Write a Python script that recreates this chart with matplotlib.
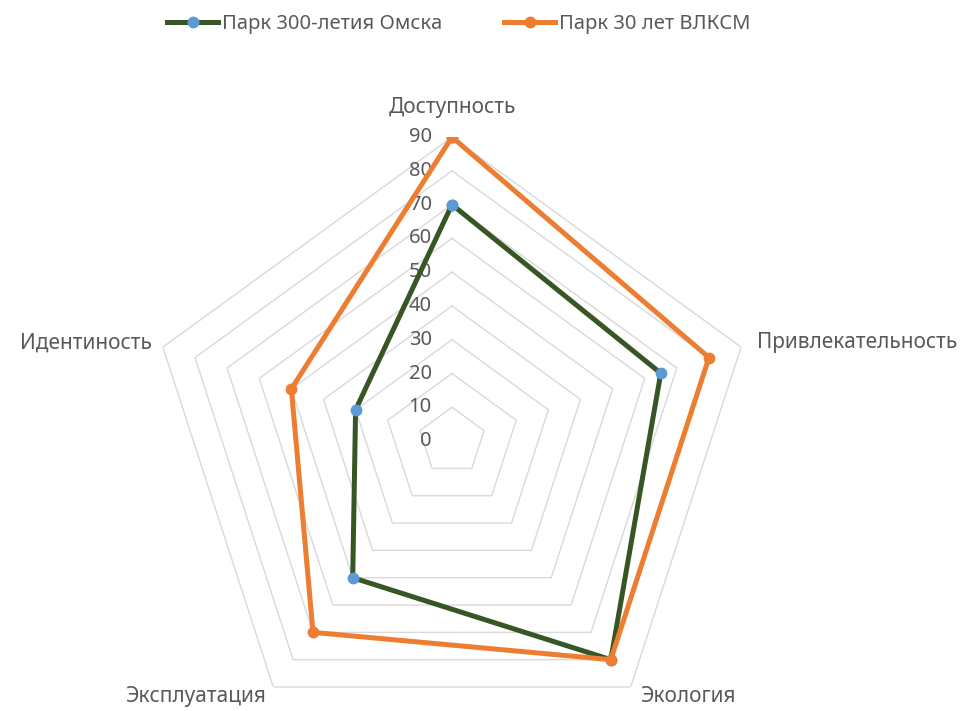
import matplotlib
matplotlib.use('Agg')
import matplotlib.pyplot as plt
import numpy as np

plt.rcParams['font.family'] = ['Noto Sans', 'DejaVu Sans']

categories = ['Доступность', 'Привлекательность', 'Экология', 'Эксплуатация', 'Идентиность']
park_omsk = [70, 65, 80, 50, 30]
park_vlksm = [90, 80, 80, 70, 50]
series_names = ['Парк 300-летия Омска', 'Парк 30 лет ВЛКСМ']
rings = [10, 20, 30, 40, 50, 60, 70, 80, 90]
tick_labels = ['0', '10', '20', '30', '40', '50', '60', '70', '80', '90']

txt_col = '#595959'
grid_col = '#d9d9d9'
green = '#375623'
blue = '#5b9bd5'
orange = '#ed7d31'

fig = plt.figure(figsize=(9.64, 7.11), dpi=100)
ax = fig.add_axes([0.1535, -0.0479, 0.6307, 0.8551], projection='polar')
ax.set_theta_offset(np.pi / 2)
ax.set_theta_direction(-1)
ax.set_ylim(0, 90)
ax.grid(False)
ax.spines['polar'].set_visible(False)
ax.set_xticks([])
ax.set_yticks([])
ax.patch.set_alpha(0)

n = len(categories)
angles = np.linspace(0, 2 * np.pi, n, endpoint=False)
closed = np.append(angles, angles[0])

# пятиугольная сетка
for r in rings:
    ax.plot(closed, [r] * (n + 1), color=grid_col, lw=1, zorder=1)

# подписи шкалы
for i, lab in enumerate(tick_labels):
    ax.annotate(lab, xy=(0, i * 10), xytext=(-14.5, 0), textcoords='offset points',
                ha='right', va='center', fontsize=14.5, color=txt_col, zorder=2)

# подписи категорий
offsets = [(0, 21.5, 'center', 'center'), (11.5, 3, 'left', 'center'),
           (6.5, -7, 'left', 'center'), (-5, -7, 'right', 'center'),
           (-8, 3, 'right', 'center')]
for a, lab, (dx, dy, ha, va) in zip(angles, categories, offsets):
    ax.annotate(lab, xy=(a, 90), xytext=(dx, dy), textcoords='offset points',
                ha=ha, va=va, fontsize=15, color=txt_col)

ax.plot(closed, park_omsk + park_omsk[:1], color=green, lw=3.6, marker='o',
        markersize=7.5, markerfacecolor=blue, markeredgecolor=blue,
        label=series_names[0], zorder=3)
ax.plot(closed, park_vlksm + park_vlksm[:1], color=orange, lw=3.6, marker='o',
        markersize=7.5, markerfacecolor=orange, markeredgecolor=orange,
        label=series_names[1], zorder=3)

leg = fig.legend(loc='upper center', bbox_to_anchor=(0.476, 1.0), ncol=2,
                 frameon=False, fontsize=14.5, handlelength=2.5, columnspacing=3.1,
                 handletextpad=0.2, borderaxespad=0.3)
for t in leg.get_texts():
    t.set_color(txt_col)

fig.savefig('out.png', dpi=100)
